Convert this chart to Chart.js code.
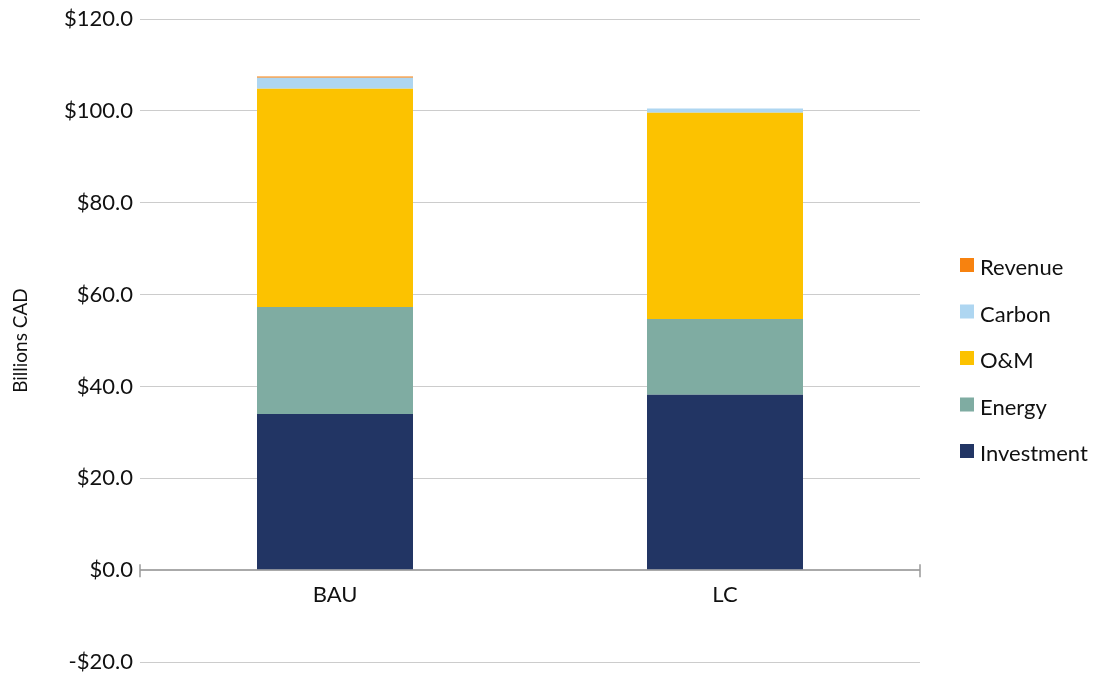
<!DOCTYPE html>
<html lang="en">
<head>
    <meta charset="UTF-8">
    <title>Billions CAD</title>
    <style>
        body { margin: 0; background: #fff; }
        .wrap { width: 1108px; height: 675px; position: relative; }
    </style>
</head>
<body>
    <div class="wrap">
        <canvas id="costChart" width="1108" height="675"></canvas>
    </div>

    <script src="https://cdn.jsdelivr.net/npm/chart.js"></script>
<script>
// Data
const scenarios = ['BAU', 'LC'];
const investment = [34.0, 38.2];
const energy = [23.3, 16.5];
const oandm = [47.5, 44.9];
const carbon = [2.4, 0.9];
const revenue = [0.3, 0];
const yTicks = [-20, 0, 20, 40, 60, 80, 100, 120];

const FONT = 'Lato, "Noto Sans", sans-serif';

// Legend drawn on the canvas, top item = last dataset
const sideLegend = {
    id: 'sideLegend',
    afterDraw(chart) {
        const ctx = chart.ctx;
        const sets = chart.data.datasets;
        ctx.save();
        ctx.font = '22px ' + FONT;
        ctx.textBaseline = 'middle';
        for (let i = 0; i < sets.length; i++) {
            const ds = sets[sets.length - 1 - i];
            const y = 267 + i * 46.5;
            ctx.fillStyle = ds.backgroundColor;
            ctx.fillRect(960, y - 9, 14, 14);
            ctx.fillStyle = '#111';
            ctx.fillText(ds.label, 980, y + 1);
        }
        ctx.restore();
    }
};

// small end ticks on the zero line
const endTicks = {
    id: 'endTicks',
    afterDraw(chart) {
        const ctx = chart.ctx;
        const a = chart.chartArea;
        const y0 = chart.scales.y.getPixelForValue(0);
        ctx.save();
        ctx.strokeStyle = '#999';
        ctx.lineWidth = 1.5;
        [a.left, a.right].forEach(x => {
            ctx.beginPath();
            ctx.moveTo(x, y0 - 6);
            ctx.lineTo(x, y0 + 7);
            ctx.stroke();
        });
        ctx.restore();
    }
};

const ctx = document.getElementById('costChart').getContext('2d');

new Chart(ctx, {
    type: 'bar',
    data: {
        labels: scenarios,
        datasets: [
            { label: 'Investment', data: investment, backgroundColor: '#223564' },
            { label: 'Energy', data: energy, backgroundColor: '#7faca2' },
            { label: 'O&M', data: oandm, backgroundColor: '#fcc200' },
            { label: 'Carbon', data: carbon, backgroundColor: '#aed6f1' },
            { label: 'Revenue', data: revenue, backgroundColor: '#f7820f' }
        ]
    },
    options: {
        responsive: false,
        animation: false,
        layout: { padding: { top: 19, right: 188, bottom: 13, left: 0 } },
        datasets: {
            bar: { categoryPercentage: 1, barPercentage: 0.4, borderWidth: 0 }
        },
        plugins: {
            legend: { display: false },
            tooltip: { enabled: false }
        },
        scales: {
            x: {
                stacked: true,
                position: { y: 0 },
                grid: { display: false, drawTicks: false },
                border: { display: false },
                ticks: {
                    color: '#111',
                    padding: 12,
                    font: { family: FONT, size: 22 }
                }
            },
            y: {
                stacked: true,
                min: -20,
                max: 120,
                afterBuildTicks: scale => {
                    scale.ticks = yTicks.map(v => ({ value: v }));
                },
                afterFit: scale => {
                    scale.width = 140;
                    scale.paddingTop = 0;
                    scale.paddingBottom = 0;
                },
                border: { display: false },
                grid: {
                    drawTicks: false,
                    color: c => c.tick && c.tick.value === 0 ? '#aaa' : '#ccc',
                    lineWidth: c => c.tick && c.tick.value === 0 ? 2 : 1
                },
                ticks: {
                    color: '#111',
                    padding: 7,
                    font: { family: FONT, size: 22 },
                    callback: v => (v < 0 ? '-$' : '$') + Math.abs(v).toFixed(1)
                },
                title: {
                    display: true,
                    text: 'Billions CAD',
                    color: '#111',
                    padding: { top: 9, bottom: 0 },
                    font: { family: FONT, size: 19 }
                }
            }
        }
    },
    plugins: [sideLegend, endTicks]
});
</script>

</body>
</html>
